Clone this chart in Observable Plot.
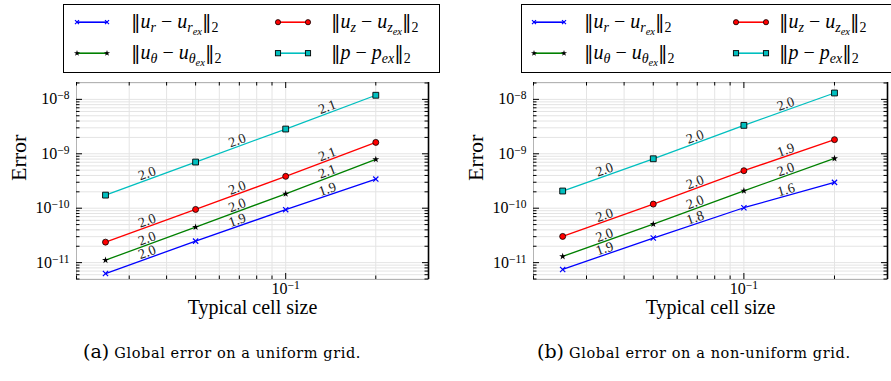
<!DOCTYPE html>
<html>
<head>
<meta charset="utf-8">
<script src="https://cdn.jsdelivr.net/npm/d3@7"></script>
<script src="https://cdn.jsdelivr.net/npm/@observablehq/plot@0.6"></script>
<style>
  html, body { margin: 0; padding: 0; background: #fff; }
  #root { position: relative; width: 891px; height: 381px; overflow: hidden; background: #fff; font-family: "Liberation Serif", serif; }
  .legend { position: absolute; top: 4px; height: 69px; width: 377px; border: 1.4px solid #000; box-sizing: border-box; background: #fff; }
  .sw { position: absolute; width: 34px; height: 12px; overflow: visible; }
  .lab { position: absolute; font-family: "Liberation Serif", serif; font-size: 20px; line-height: 20px; white-space: nowrap; color: #000; }
  .lab i { font-style: italic; }
  .lab .nb { font-family: "DejaVu Serif", serif; font-weight: normal; font-size: 19px; }
  .lab sub { font-size: 0.7em; vertical-align: -0.3em; line-height: 0; }
  .lab sub sub { font-size: 0.75em; vertical-align: -0.25em; }
  .panel { position: absolute; top: 74px; }
  .cap { position: absolute; top: 340px; white-space: nowrap; font-family: "DejaVu Serif", serif; color: #000; }
  .cap .tag { font-size: 19px; }
  .cap .txt { font-size: 14.5px; letter-spacing: 0.6px; }
</style>
</head>
<body>
<div id="root"></div>
<script>
// ---------------- data ----------------
const cellSize = [0.025, 0.05, 0.1, 0.2];
const seriesKeys = ["ur", "utheta", "uz", "p"];
const seriesColors = ["#0000ff", "#008000", "#ff0000", "#00bfbf"];
const seriesSymbols = ["times", "star", "circle", "square"];

// (a) uniform grid
const uniformUr     = [6.3e-12, 2.48e-11, 9.4e-11, 3.43e-10];
const uniformUtheta = [1.11e-11, 4.5e-11, 1.84e-10, 7.9e-10];
const uniformUz     = [2.38e-11, 9.5e-11, 3.85e-10, 1.62e-9];
const uniformP      = [1.74e-10, 7.05e-10, 2.85e-9, 1.19e-8];
const uniformRateUr     = ["2.0", "1.9", "1.9"];
const uniformRateUtheta = ["2.0", "2.0", "2.1"];
const uniformRateUz     = ["2.0", "2.0", "2.1"];
const uniformRateP      = ["2.0", "2.0", "2.1"];

// (b) non-uniform grid
const nonUniformUr     = [7.5e-12, 2.83e-11, 1.02e-10, 2.98e-10];
const nonUniformUtheta = [1.3e-11, 5.1e-11, 2.09e-10, 8.2e-10];
const nonUniformUz     = [3.03e-11, 1.19e-10, 4.89e-10, 1.82e-9];
const nonUniformP      = [2.07e-10, 8.1e-10, 3.33e-9, 1.31e-8];
const nonUniformRateUr     = ["1.9", "1.8", "1.6"];
const nonUniformRateUtheta = ["2.0", "2.0", "2.0"];
const nonUniformRateUz     = ["2.0", "2.0", "1.9"];
const nonUniformRateP      = ["2.0", "2.0", "2.0"];

// legend labels (HTML math), in seriesKeys order
const NB = '<span class="nb">‖</span>';
const legendLabels = [
  NB + "<i>u</i><sub><i>r</i></sub> − <i>u</i><sub><i>r</i><sub><i>ex</i></sub></sub>" + NB + "<sub>2</sub>",
  NB + "<i>u</i><sub><i>θ</i></sub> − <i>u</i><sub><i>θ</i><sub><i>ex</i></sub></sub>" + NB + "<sub>2</sub>",
  NB + "<i>u</i><sub><i>z</i></sub> − <i>u</i><sub><i>z</i><sub><i>ex</i></sub></sub>" + NB + "<sub>2</sub>",
  NB + "<i>p</i> − <i>p</i><sub><i>ex</i></sub>" + NB + "<sub>2</sub>"
];
const xLabel = "Typical cell size";
const yLabel = "Error";
const captionTags = ["(a)", "(b)"];
const captionTexts = ["Global error on a uniform grid.", "Global error on a non-uniform grid."];

// axis ticks
const X_DOMAIN = [0.02, 0.3];
const Y_DOMAIN = [Math.pow(10, -11.31), Math.pow(10, -7.69)];
const xMajorTicks = [0.1];
const xMinorTicks = [0.02, 0.03, 0.04, 0.05, 0.06, 0.07, 0.08, 0.09, 0.2, 0.3];
const yMajorTicks = [1e-11, 1e-10, 1e-9, 1e-8];
const yMinorTicks = [];
for (let k = -12; k <= -8; k++) for (let m = 2; m <= 9; m++) {
  const v = m * Math.pow(10, k);
  if (v > Y_DOMAIN[0] && v < Y_DOMAIN[1]) yMinorTicks.push(v);
}

// ---------------- drawing ----------------
const root = document.getElementById("root");
const NS = "http://www.w3.org/2000/svg";

function makePanel(cfg) {
  const {width, height, marginLeft, marginRight, marginTop, marginBottom, values, rates} = cfg;
  const plotW = width - marginLeft - marginRight;
  const plotH = height - marginTop - marginBottom;
  const pxX = plotW / Math.log10(X_DOMAIN[1] / X_DOMAIN[0]);
  const pxY = plotH / Math.log10(Y_DOMAIN[1] / Y_DOMAIN[0]);
  const fx = px => Math.pow(10, px / pxX);
  const fy = px => Math.pow(10, px / pxY);
  const MAJ = 6, MIN = 3.5;

  const marks = [
    Plot.ruleY(yMinorTicks.concat(yMajorTicks), {stroke: "#e4e4e4", strokeWidth: 1}),
    Plot.ruleX(xMinorTicks.concat(xMajorTicks), {stroke: "#e4e4e4", strokeWidth: 1}),
    Plot.frame({stroke: "#b4b4b4", strokeWidth: 1}),
    Plot.ruleX([X_DOMAIN[1]], {stroke: "#000", strokeWidth: 1.6}),
    // inward ticks
    Plot.ruleY(yMajorTicks, {x1: X_DOMAIN[0], x2: X_DOMAIN[0] * fx(MAJ), stroke: "#000"}),
    Plot.ruleY(yMinorTicks, {x1: X_DOMAIN[0], x2: X_DOMAIN[0] * fx(MIN), stroke: "#000"}),
    Plot.ruleY(yMajorTicks, {x1: X_DOMAIN[1] / fx(MAJ), x2: X_DOMAIN[1], stroke: "#000"}),
    Plot.ruleY(yMinorTicks, {x1: X_DOMAIN[1] / fx(MIN), x2: X_DOMAIN[1], stroke: "#000"}),
    Plot.ruleX(xMajorTicks, {y1: Y_DOMAIN[0], y2: Y_DOMAIN[0] * fy(MAJ), stroke: "#000"}),
    Plot.ruleX(xMinorTicks, {y1: Y_DOMAIN[0], y2: Y_DOMAIN[0] * fy(MIN), stroke: "#000"}),
    Plot.ruleX(xMajorTicks, {y1: Y_DOMAIN[1] / fy(MAJ), y2: Y_DOMAIN[1], stroke: "#000"}),
    Plot.ruleX(xMinorTicks, {y1: Y_DOMAIN[1] / fy(MIN), y2: Y_DOMAIN[1], stroke: "#000"})
  ];

  const rateRows = [];
  seriesKeys.forEach((key, s) => {
    const pts = cellSize.map((x, i) => ({key, x, y: values[s][i]}));
    marks.push(Plot.line(pts, {x: "x", y: "y", stroke: seriesColors[s], strokeWidth: 1.3}));
    rates[s].forEach((t, i) => {
      const x1 = cellSize[i], x2 = cellSize[i + 1], y1 = values[s][i], y2 = values[s][i + 1];
      const ang = -Math.atan2(Math.log10(y2 / y1) * pxY, Math.log10(x2 / x1) * pxX) * 180 / Math.PI;
      rateRows.push({x: Math.sqrt(x1 * x2), y: Math.sqrt(y1 * y2), text: t, angle: ang});
    });
  });
  seriesKeys.forEach((key, s) => {
    const pts = cellSize.map((x, i) => ({key, x, y: values[s][i]}));
    const sym = seriesSymbols[s];
    let opts;
    if (sym === "times") opts = {symbol: "times", stroke: seriesColors[s], fill: "none", r: 2.5, strokeWidth: 1.2};
    else if (sym === "star") opts = {symbol: "star", fill: "#000", stroke: "none", r: 2.2};
    else if (sym === "circle") opts = {symbol: "circle", fill: seriesColors[s], stroke: "#000", strokeWidth: 0.8, r: 3};
    else opts = {symbol: "square", fill: seriesColors[s], stroke: "#000", strokeWidth: 0.9, r: 3.3};
    marks.push(Plot.dot(pts, {x: "x", y: "y", ...opts}));
  });
  marks.push(Plot.text(rateRows, {
    x: "x", y: "y", text: "text", rotate: "angle", lineAnchor: "bottom", textAnchor: "middle",
    dx: -2, dy: -1, fontSize: 14, fill: "#222", fontFamily: "Liberation Serif"
  }));
  marks.push(Plot.axisY({ticks: yMajorTicks, tickSize: 0, tickPadding: 7, label: null,
    tickFormat: d => "10^" + Math.round(Math.log10(d)), fontSize: 16, fontFamily: "Liberation Serif"}));
  marks.push(Plot.axisX({ticks: xMajorTicks, tickSize: 0, tickPadding: 3, label: null,
    tickFormat: d => "10^" + Math.round(Math.log10(d)), fontSize: 16, fontFamily: "Liberation Serif"}));
  marks.push(Plot.text([yLabel], {frameAnchor: "left", dx: -58, rotate: -90, fontSize: 22, fontFamily: "Liberation Serif", fill: "#000"}));
  marks.push(Plot.text([xLabel], {frameAnchor: "bottom", dy: 34, fontSize: 20, fontFamily: "Liberation Serif", fill: "#000"}));

  const svg = Plot.plot({
    width, height, marginLeft, marginRight, marginTop, marginBottom,
    x: {type: "log", domain: X_DOMAIN},
    y: {type: "log", domain: Y_DOMAIN},
    style: {background: "white", color: "#000", fontFamily: "Liberation Serif", overflow: "visible"},
    marks
  });
  // superscript exponents
  svg.querySelectorAll("text").forEach(t => {
    const m = /^10\^(-?\d+)$/.exec(t.textContent);
    if (m) {
      t.textContent = "10";
      const ts = document.createElementNS(NS, "tspan");
      ts.setAttribute("dy", "-0.45em");
      ts.setAttribute("font-size", "0.72em");
      ts.textContent = m[1].replace("-", "\u2212");
      t.appendChild(ts);
    }
  });
  return svg;
}

function swatch(s) {
  const c = seriesColors[s];
  const sym = seriesSymbols[s];
  const ends = [2, 32];
  let m = "";
  ends.forEach(x => {
    if (sym === "times") m += `<path d="M${x-2},4.2 L${x+2},8.2 M${x-2},8.2 L${x+2},4.2" stroke="${c}" stroke-width="1.2"/>`;
    else if (sym === "star") m += `<path transform="translate(${x},6.2)" d="${d3.symbol(d3.symbolStar, 12)()}" fill="#000"/>`;
    else if (sym === "circle") m += `<circle cx="${x}" cy="6.2" r="2.6" fill="${c}" stroke="#000" stroke-width="0.8"/>`;
    else m += `<rect x="${x-2.6}" y="3.6" width="5.2" height="5.2" fill="${c}" stroke="#000" stroke-width="0.9"/>`;
  });
  return `<svg class="sw" viewBox="0 0 34 12" width="34" height="12"><line x1="2" y1="6.2" x2="32" y2="6.2" stroke="${c}" stroke-width="1.6"/>${m}</svg>`;
}

function makeLegend(left, pos) {
  const box = document.createElement("div");
  box.className = "legend";
  box.style.left = left + "px";
  // row1: ur, uz ; row2: utheta, p
  const layout = [[0, 0, 0], [2, 0, 1], [1, 1, 0], [3, 1, 1]];
  let html = "";
  layout.forEach(([s, row, col]) => {
    const top = row === 0 ? 11 : 42;
    html += `<div style="position:absolute;left:${pos.sw[col]}px;top:${top}px;width:34px;height:12px">${swatch(s)}</div>`;
    html += `<div class="lab" style="left:${pos.tx[col]}px;top:${top - 5}px">${legendLabels[s]}</div>`;
  });
  box.innerHTML = html;
  root.appendChild(box);
}

function makeCaption(left, i) {
  const d = document.createElement("div");
  d.className = "cap";
  d.style.left = left + "px";
  d.innerHTML = `<span class="tag">${captionTags[i]}</span> <span class="txt">${captionTexts[i]}</span>`;
  root.appendChild(d);
}

// panel (a)
const pa = makePanel({
  width: 445, height: 256, marginLeft: 76, marginRight: 17, marginTop: 8, marginBottom: 51,
  values: [uniformUr, uniformUtheta, uniformUz, uniformP],
  rates: [uniformRateUr, uniformRateUtheta, uniformRateUz, uniformRateP]
});
const wa = document.createElement("div");
wa.className = "panel"; wa.style.left = "0px"; wa.appendChild(pa); root.appendChild(wa);

// panel (b)
const pb = makePanel({
  width: 434, height: 256, marginLeft: 76, marginRight: 4, marginTop: 8, marginBottom: 51,
  values: [nonUniformUr, nonUniformUtheta, nonUniformUz, nonUniformP],
  rates: [nonUniformRateUr, nonUniformRateUtheta, nonUniformRateUz, nonUniformRateP]
});
const wb = document.createElement("div");
wb.className = "panel"; wb.style.left = "457px"; wb.appendChild(pb); root.appendChild(wb);

makeLegend(63, {sw: [11, 212], tx: [67, 267]});
makeLegend(521, {sw: [10, 212], tx: [62, 257]});

makeCaption(83, 0);
makeCaption(537, 1);
</script>
</body>
</html>
